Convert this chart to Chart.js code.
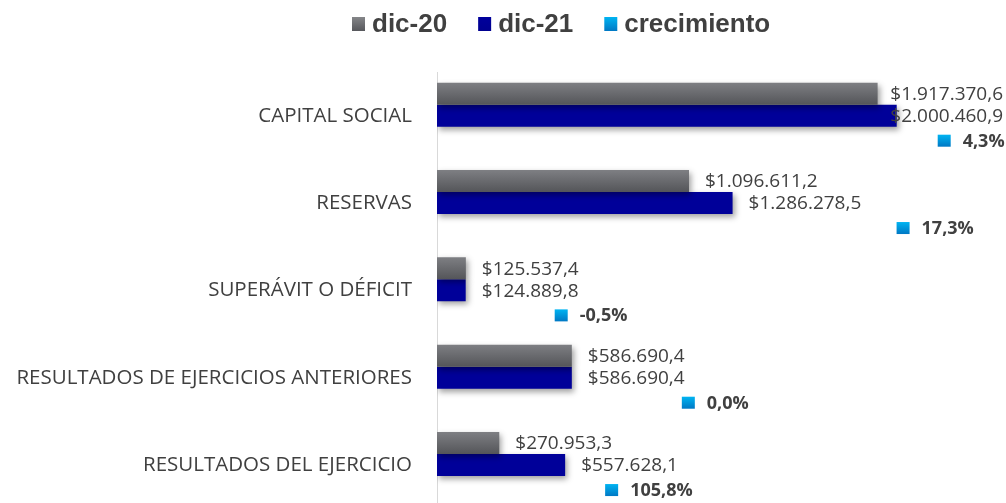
<!DOCTYPE html>
<html lang="es">
<head>
  <meta charset="UTF-8" />
  <title>Patrimonio dic-20 / dic-21</title>
  <script src="https://cdn.jsdelivr.net/npm/chart.js"></script>
  <style>
    html, body {
      margin: 0;
      padding: 0;
      background: #ffffff;
      overflow: hidden;
    }
    canvas {
      display: block;
    }
  </style>
</head>
<body>
  <!-- el área del gráfico sigue un poco por debajo del borde de la ventana -->
  <canvas id="grafico" width="1006" height="546"></canvas>

  <script>
    const categorias = [
      'CAPITAL SOCIAL',
      'RESERVAS',
      'SUPERÁVIT O DÉFICIT',
      'RESULTADOS DE EJERCICIOS ANTERIORES',
      'RESULTADOS DEL EJERCICIO'
    ];
    const dic20 = [1917370.6, 1096611.2, 125537.4, 586690.4, 270953.3];
    const dic21 = [2000460.9, 1286278.5, 124889.8, 586690.4, 557628.1];
    const crecimiento = [4.3, 17.3, -0.5, 0.0, 105.8];

    const GRIS_TEXTO = '#404040';

    // formato $1.234.567,8
    function pesos(v) {
      const partes = v.toFixed(1).split('.');
      return '$' + partes[0].replace(/\B(?=(\d{3})+(?!\d))/g, '.') + ',' + partes[1];
    }
    function pct(v) {
      return v.toFixed(1).replace('.', ',') + '%';
    }

    // degradado vertical por barra (gris)
    function grisBarra(context) {
      const chart = context.chart;
      const el = chart.getDatasetMeta(context.datasetIndex).data[context.dataIndex];
      if (!el || el.y == null || !el.height) return '#6a6b6f';
      const g = chart.ctx.createLinearGradient(0, el.y - el.height / 2, 0, el.y + el.height / 2);
      g.addColorStop(0, '#7e7f83');
      g.addColorStop(1, '#545559');
      return g;
    }

    const sombraBarras = {
      id: 'sombraBarras',
      beforeDatasetsDraw(chart) {
        const ctx = chart.ctx;
        ctx.save();
        ctx.shadowColor = 'rgba(0,0,0,0.38)';
        ctx.shadowBlur = 6;
        ctx.shadowOffsetX = 2;
        ctx.shadowOffsetY = 3;
      },
      afterDatasetsDraw(chart) {
        chart.ctx.restore();
      }
    };

    const etiquetas = {
      id: 'etiquetas',
      afterDatasetsDraw(chart, args, opts) {
        const ctx = chart.ctx;
        ctx.save();
        ctx.textBaseline = 'middle';
        ctx.textAlign = 'left';

        // valores en pesos
        ctx.font = '19px "Open Sans"';
        ctx.fillStyle = GRIS_TEXTO;
        [0, 1].forEach(di => {
          const meta = chart.getDatasetMeta(di);
          meta.data.forEach((bar, i) => {
            const txt = pesos(chart.data.datasets[di].data[i]);
            const w = ctx.measureText(txt).width;
            let x = bar.x + 16;
            if (x + w > chart.width - 3) x = chart.width - 3 - w;
            ctx.fillText(txt, x, bar.y + 1);
          });
        });

        // crecimiento: cuadrito + porcentaje
        const metaC = chart.getDatasetMeta(2);
        const meta21 = chart.getDatasetMeta(1);
        ctx.font = 'bold 18px "Open Sans"';
        metaC.data.forEach((slot, i) => {
          const x = meta21.data[i].x + opts.crecLabelShift[i];
          const y = slot.y + 3;
          const g = ctx.createLinearGradient(0, y - 6, 0, y + 6);
          g.addColorStop(0, '#00b4f2');
          g.addColorStop(1, '#0078c4');
          ctx.fillStyle = g;
          ctx.fillRect(x, y - 6, 13, 12);
          ctx.fillStyle = GRIS_TEXTO;
          ctx.fillText(pct(chart.data.datasets[2].data[i]), x + 25, y + 1);
        });
        ctx.restore();
      }
    };

    const leyenda = {
      id: 'leyenda',
      afterDraw(chart, args, opts) {
        const ctx = chart.ctx;
        ctx.save();
        ctx.font = 'bold 26px "Liberation Sans", Arial';
        ctx.textBaseline = 'middle';
        ctx.textAlign = 'left';
        let x = opts.x;
        const y = opts.y;
        chart.data.datasets.forEach(ds => {
          const g = ctx.createLinearGradient(0, y - 7, 0, y + 7);
          g.addColorStop(0, ds.legendTop);
          g.addColorStop(1, ds.legendBottom);
          ctx.fillStyle = g;
          ctx.fillRect(x, y - 7, 13, 14);
          x += 20;
          ctx.fillStyle = GRIS_TEXTO;
          ctx.fillText(ds.label, x, y + 1);
          x += ctx.measureText(ds.label).width + 31;
        });
        ctx.restore();
      }
    };

    const ctx = document.getElementById('grafico').getContext('2d');
    const grafico = new Chart(ctx, {
      type: 'bar',
      data: {
        labels: categorias,
        datasets: [
          {
            label: 'dic-20',
            data: dic20,
            backgroundColor: grisBarra,
            legendTop: '#858689',
            legendBottom: '#57585c',
            xAxisID: 'x'
          },
          {
            label: 'dic-21',
            data: dic21,
            backgroundColor: '#000099',
            legendTop: '#00009c',
            legendBottom: '#000090',
            xAxisID: 'x'
          },
          {
            label: 'crecimiento',
            data: crecimiento,
            backgroundColor: 'rgba(0,0,0,0)',
            legendTop: '#00b4f2',
            legendBottom: '#0078c4',
            xAxisID: 'x2'
          }
        ]
      },
      options: {
        indexAxis: 'y',
        responsive: false,
        animation: false,
        categoryPercentage: 0.7565,
        barPercentage: 1,
        borderWidth: 0,
        layout: {
          padding: { top: 72, bottom: 0, left: 0, right: 6 }
        },
        scales: {
          x: {
            display: false,
            min: 0,
            max: 2450000
          },
          x2: {
            display: false,
            min: -200,
            max: 200
          },
          y: {
            grid: { display: false, drawTicks: false },
            border: { display: true, color: '#d9d9d9', width: 1 },
            ticks: {
              padding: 25,
              color: GRIS_TEXTO,
              font: { family: '"Open Sans"', size: 20.5 }
            },
            afterFit(scale) {
              scale.width = 437;
            }
          }
        },
        plugins: {
          legend: { display: false },
          tooltip: { enabled: false },
          etiquetas: { crecLabelShift: [41, 164, 89, 110, 40] },
          leyenda: { x: 352, y: 24 }
        }
      },
      plugins: [sombraBarras, etiquetas, leyenda]
    });
    grafico.update();
  </script>
</body>
</html>
